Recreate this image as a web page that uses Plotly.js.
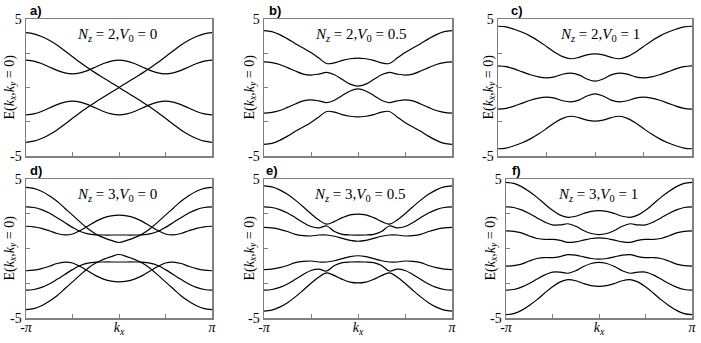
<!DOCTYPE html>
<html>
<head>
<meta charset="utf-8">
<script src="https://cdn.plot.ly/plotly-3.0.1.min.js"></script>
<style>
  html, body { margin: 0; padding: 0; background: #fff; }
  #grafico { width: 701px; height: 343px; }
</style>
</head>
<body>
<div id="grafico"></div>
<script>
/* bandas E(kx, ky = 0), kx de -pi a pi em passos de pi/12 */

const kx = [-3.1416, -2.8798, -2.618, -2.3562, -2.0944, -1.8326, -1.5708, -1.309,
  -1.0472, -0.7854, -0.5236, -0.2618, 0, 0.2618, 0.5236, 0.7854, 1.0472, 1.309,
  1.5708, 1.8326, 2.0944, 2.3562, 2.618, 2.8798, 3.1416];

// a) Nz = 2, V0 = 0
const a1 = [4.0,3.92,3.72,3.45,3.1,2.68,2.25,1.82,1.42,1.05,0.7,0.35,0,-0.35,-0.7,-1.05,-1.42,-1.82,-2.25,-2.68,-3.1,-3.45,-3.72,-3.92,-4.0];
const a2 = [2.0,1.93,1.75,1.5,1.25,1.07,1.0,1.07,1.25,1.5,1.75,1.93,2.0,1.93,1.75,1.5,1.25,1.07,1.0,1.07,1.25,1.5,1.75,1.93,2.0];
const a3 = [-2.0,-1.93,-1.75,-1.5,-1.25,-1.07,-1.0,-1.07,-1.25,-1.5,-1.75,-1.93,-2.0,-1.93,-1.75,-1.5,-1.25,-1.07,-1.0,-1.07,-1.25,-1.5,-1.75,-1.93,-2.0];
const a4 = [-4.0,-3.92,-3.72,-3.45,-3.1,-2.68,-2.25,-1.82,-1.42,-1.05,-0.7,-0.35,0,0.35,0.7,1.05,1.42,1.82,2.25,2.68,3.1,3.45,3.72,3.92,4.0];

// b) Nz = 2, V0 = 0.5
const b1 = [4.15,4.08,3.86,3.55,3.2,2.88,2.55,2.15,1.75,1.8,1.98,2.1,2.15,2.1,1.98,1.8,1.75,2.15,2.55,2.88,3.2,3.55,3.86,4.08,4.15];
const b2 = [1.87,1.82,1.68,1.45,1.2,0.98,0.91,0.98,1.1,0.93,0.58,0.25,0.1,0.25,0.58,0.93,1.1,0.98,0.91,0.98,1.2,1.45,1.68,1.82,1.87];
const b3 = [-1.87,-1.82,-1.68,-1.45,-1.2,-0.98,-0.91,-0.98,-1.1,-0.93,-0.58,-0.25,-0.1,-0.25,-0.58,-0.93,-1.1,-0.98,-0.91,-0.98,-1.2,-1.45,-1.68,-1.82,-1.87];
const b4 = [-4.15,-4.08,-3.86,-3.55,-3.2,-2.88,-2.55,-2.15,-1.75,-1.8,-1.98,-2.1,-2.15,-2.1,-1.98,-1.8,-1.75,-2.15,-2.55,-2.88,-3.2,-3.55,-3.86,-4.08,-4.15];

// c) Nz = 2, V0 = 1
const c1 = [4.47,4.42,4.25,4.03,3.75,3.4,3.0,2.58,2.25,2.1,2.2,2.38,2.45,2.38,2.2,2.1,2.25,2.58,3.0,3.4,3.75,4.03,4.25,4.42,4.47];
const c2 = [1.58,1.52,1.36,1.14,0.93,0.77,0.7,0.78,0.97,1.05,0.92,0.62,0.46,0.62,0.92,1.05,0.97,0.78,0.7,0.77,0.93,1.14,1.36,1.52,1.58];
const c3 = [-1.58,-1.52,-1.36,-1.14,-0.93,-0.77,-0.7,-0.78,-0.97,-1.05,-0.92,-0.62,-0.46,-0.62,-0.92,-1.05,-0.97,-0.78,-0.7,-0.77,-0.93,-1.14,-1.36,-1.52,-1.58];
const c4 = [-4.47,-4.42,-4.25,-4.03,-3.75,-3.4,-3.0,-2.58,-2.25,-2.1,-2.2,-2.38,-2.45,-2.38,-2.2,-2.1,-2.25,-2.58,-3.0,-3.4,-3.75,-4.03,-4.25,-4.42,-4.47];

// d) Nz = 3, V0 = 0
const d1 = [4.4,4.33,4.12,3.8,3.4,2.9,2.4,1.9,1.42,1.05,0.78,0.58,0.43,0.58,0.78,1.05,1.42,1.9,2.4,2.9,3.4,3.8,4.12,4.33,4.4];
const d2 = [3.0,2.95,2.8,2.55,2.22,1.87,1.52,1.22,1.05,0.98,0.97,0.97,0.97,0.97,0.97,0.98,1.05,1.22,1.52,1.87,2.22,2.55,2.8,2.95,3.0];
const d3 = [1.6,1.56,1.45,1.28,1.08,0.98,1.04,1.3,1.62,1.95,2.2,2.35,2.4,2.35,2.2,1.95,1.62,1.3,1.04,0.98,1.08,1.28,1.45,1.56,1.6];
const d4 = [-1.6,-1.56,-1.45,-1.28,-1.08,-0.98,-1.04,-1.3,-1.62,-1.95,-2.2,-2.35,-2.4,-2.35,-2.2,-1.95,-1.62,-1.3,-1.04,-0.98,-1.08,-1.28,-1.45,-1.56,-1.6];
const d5 = [-3.0,-2.95,-2.8,-2.55,-2.22,-1.87,-1.52,-1.22,-1.05,-0.98,-0.97,-0.97,-0.97,-0.97,-0.97,-0.98,-1.05,-1.22,-1.52,-1.87,-2.22,-2.55,-2.8,-2.95,-3.0];
const d6 = [-4.4,-4.33,-4.12,-3.8,-3.4,-2.9,-2.4,-1.9,-1.42,-1.05,-0.78,-0.58,-0.43,-0.58,-0.78,-1.05,-1.42,-1.9,-2.4,-2.9,-3.4,-3.8,-4.12,-4.33,-4.4];

// e) Nz = 3, V0 = 0.5
const e1 = [4.5,4.43,4.22,3.9,3.48,3.0,2.5,2.05,1.75,1.95,2.22,2.42,2.48,2.42,2.22,1.95,1.75,2.05,2.5,3.0,3.48,3.9,4.22,4.43,4.5];
const e2 = [3.0,2.95,2.8,2.55,2.22,1.87,1.58,1.48,1.62,1.22,1.02,0.97,0.96,0.97,1.02,1.22,1.62,1.48,1.58,1.87,2.22,2.55,2.8,2.95,3.0];
const e3 = [1.52,1.48,1.38,1.22,1.02,0.93,0.9,0.97,0.97,0.88,0.73,0.58,0.52,0.58,0.73,0.88,0.97,0.97,0.9,0.93,1.02,1.22,1.38,1.48,1.52];
const e4 = [-1.52,-1.48,-1.38,-1.22,-1.02,-0.93,-0.9,-0.97,-0.97,-0.88,-0.73,-0.58,-0.52,-0.58,-0.73,-0.88,-0.97,-0.97,-0.9,-0.93,-1.02,-1.22,-1.38,-1.48,-1.52];
const e5 = [-3.0,-2.95,-2.8,-2.55,-2.22,-1.87,-1.58,-1.48,-1.62,-1.22,-1.02,-0.97,-0.96,-0.97,-1.02,-1.22,-1.62,-1.48,-1.58,-1.87,-2.22,-2.55,-2.8,-2.95,-3.0];
const e6 = [-4.5,-4.43,-4.22,-3.9,-3.48,-3.0,-2.5,-2.05,-1.75,-1.95,-2.22,-2.42,-2.48,-2.42,-2.22,-1.95,-1.75,-2.05,-2.5,-3.0,-3.48,-3.9,-4.22,-4.43,-4.5];

// f) Nz = 3, V0 = 1
const f1 = [4.76,4.68,4.45,4.1,3.68,3.2,2.75,2.4,2.24,2.32,2.52,2.67,2.72,2.67,2.52,2.32,2.24,2.4,2.75,3.2,3.68,4.1,4.45,4.68,4.76];
const f2 = [3.0,2.95,2.78,2.52,2.2,1.9,1.7,1.7,1.78,1.6,1.3,1.08,1.0,1.08,1.3,1.6,1.78,1.7,1.7,1.9,2.2,2.52,2.78,2.95,3.0];
const f3 = [1.27,1.23,1.12,0.9,0.72,0.65,0.66,0.58,0.44,0.48,0.6,0.72,0.77,0.72,0.6,0.48,0.44,0.58,0.66,0.65,0.72,0.9,1.12,1.23,1.27];
const f4 = [-1.27,-1.23,-1.12,-0.9,-0.72,-0.65,-0.66,-0.58,-0.44,-0.48,-0.6,-0.72,-0.77,-0.72,-0.6,-0.48,-0.44,-0.58,-0.66,-0.65,-0.72,-0.9,-1.12,-1.23,-1.27];
const f5 = [-3.0,-2.95,-2.78,-2.52,-2.2,-1.9,-1.7,-1.7,-1.78,-1.6,-1.3,-1.08,-1.0,-1.08,-1.3,-1.6,-1.78,-1.7,-1.7,-1.9,-2.2,-2.52,-2.78,-2.95,-3.0];
const f6 = [-4.76,-4.68,-4.45,-4.1,-3.68,-3.2,-2.75,-2.4,-2.24,-2.32,-2.52,-2.67,-2.72,-2.67,-2.52,-2.32,-2.24,-2.4,-2.75,-3.2,-3.68,-4.1,-4.45,-4.68,-4.76];

const letras = ["a)", "b)", "c)", "d)", "e)", "f)"];
const legendas = [
  "<i>N</i><sub><i>z</i></sub> = 2,<i>V</i><sub>0</sub> = 0",
  "<i>N</i><sub><i>z</i></sub> = 2,<i>V</i><sub>0</sub> = 0.5",
  "<i>N</i><sub><i>z</i></sub> = 2,<i>V</i><sub>0</sub> = 1",
  "<i>N</i><sub><i>z</i></sub> = 3,<i>V</i><sub>0</sub> = 0",
  "<i>N</i><sub><i>z</i></sub> = 3,<i>V</i><sub>0</sub> = 0.5",
  "<i>N</i><sub><i>z</i></sub> = 3,<i>V</i><sub>0</sub> = 1",
];
const tituloY = "E(<i>k</i><sub><i>x</i></sub>,<i>k</i><sub><i>y</i></sub> = 0)";
const ticksK = [-3.1416, -1.5708, 0, 1.5708, 3.1416];
const rotulosK = ["-<i>π</i>", "", "<i>k</i><sub><i>x</i></sub>", "", "<i>π</i>"];
const ticksE = [-5, -2.5, 0, 2.5, 5];
const rotulosE = ["-5", "", "", "", "5"];

const bandas = [
  [a1, a2, a3, a4],
  [b1, b2, b3, b4],
  [c1, c2, c3, c4],
  [d1, d2, d3, d4, d5, d6],
  [e1, e2, e3, e4, e5, e6],
  [f1, f2, f3, f4, f5, f6],
];

/* ========= GEOMETRIA (pixels) ========= */
const W = 701, H = 343;
const px = (x) => x / W;
const py = (y) => 1 - y / H;

// [esquerda, direita, topo, base] de cada painel
const caixas = [
  [26, 212, 19, 156],
  [264, 452, 19, 156],
  [498, 692, 19, 156],
  [26, 212, 179, 318],
  [264, 452, 179, 318],
  [506, 692, 179, 318],
];
const centroLegenda = [117, 360, 600, 117, 359, 598];
const posTituloY = [10, 250, 489, 10, 250, 491];
const posLetra = [[28, 11], [267, 11], [509, 11], [28, 171], [264, 171], [510, 171]];

const serif = "Liberation Serif, DejaVu Serif, serif";
const cinza = "#808080";

const traces = [];
const layout = {
  width: W,
  height: H,
  margin: { l: 0, r: 0, t: 0, b: 0 },
  paper_bgcolor: "#fff",
  plot_bgcolor: "#fff",
  showlegend: false,
  annotations: [],
};

caixas.forEach(([x0, x1, y0, y1], p) => {
  const sufixo = p === 0 ? "" : String(p + 1);
  const baixo = p >= 3;

  bandas[p].forEach((valores) => {
    traces.push({
      x: kx,
      y: valores,
      xaxis: "x" + sufixo,
      yaxis: "y" + sufixo,
      type: "scatter",
      mode: "lines",
      line: { color: "#000", width: 1.2, shape: "spline", smoothing: 1 },
      hoverinfo: "skip",
    });
  });

  layout["xaxis" + sufixo] = {
    domain: [px(x0), px(x1)],
    anchor: "y" + sufixo,
    range: [-3.1416, 3.1416],
    showline: true,
    mirror: true,
    linecolor: cinza,
    linewidth: 1.5,
    ticks: "inside",
    ticklen: 4,
    tickcolor: cinza,
    tickwidth: 1,
    tickmode: "array",
    tickvals: ticksK,
    ticktext: baixo ? rotulosK : ["", "", "", "", ""],
    tickfont: { family: serif, size: 14, color: "#000" },
    ticklabelstandoff: -4,
    showgrid: false,
    zeroline: false,
  };
  layout["yaxis" + sufixo] = {
    domain: [py(y1), py(y0)],
    anchor: "x" + sufixo,
    range: [-5, 5],
    showline: true,
    mirror: true,
    linecolor: cinza,
    linewidth: 1.5,
    ticks: "inside",
    ticklen: 4,
    tickcolor: cinza,
    tickwidth: 1,
    tickmode: "array",
    tickvals: ticksE,
    ticktext: rotulosE,
    tickfont: { family: serif, size: 14, color: "#000" },
    showgrid: false,
    zeroline: false,
  };

  layout.annotations.push(
    {
      text: legendas[p],
      xref: "paper", yref: "paper",
      x: px(centroLegenda[p]), y: py(y0 + 16),
      xanchor: "center", yanchor: "middle",
      showarrow: false,
      font: { family: serif, size: 15, color: "#000" },
    },
    {
      text: tituloY,
      xref: "paper", yref: "paper",
      x: px(posTituloY[p]), y: py((y0 + y1) / 2),
      xanchor: "center", yanchor: "middle",
      textangle: -90,
      showarrow: false,
      font: { family: serif, size: 14, color: "#000" },
    },
    {
      text: "<b>" + letras[p] + "</b>",
      xref: "paper", yref: "paper",
      x: px(posLetra[p][0]), y: py(posLetra[p][1]),
      xanchor: "left", yanchor: "middle",
      showarrow: false,
      font: { family: "Liberation Sans, Arial, sans-serif", size: 13, color: "#000" },
    }
  );
});

Plotly.newPlot("grafico", traces, layout, { displayModeBar: false, staticPlot: true });
</script>
</body>
</html>
